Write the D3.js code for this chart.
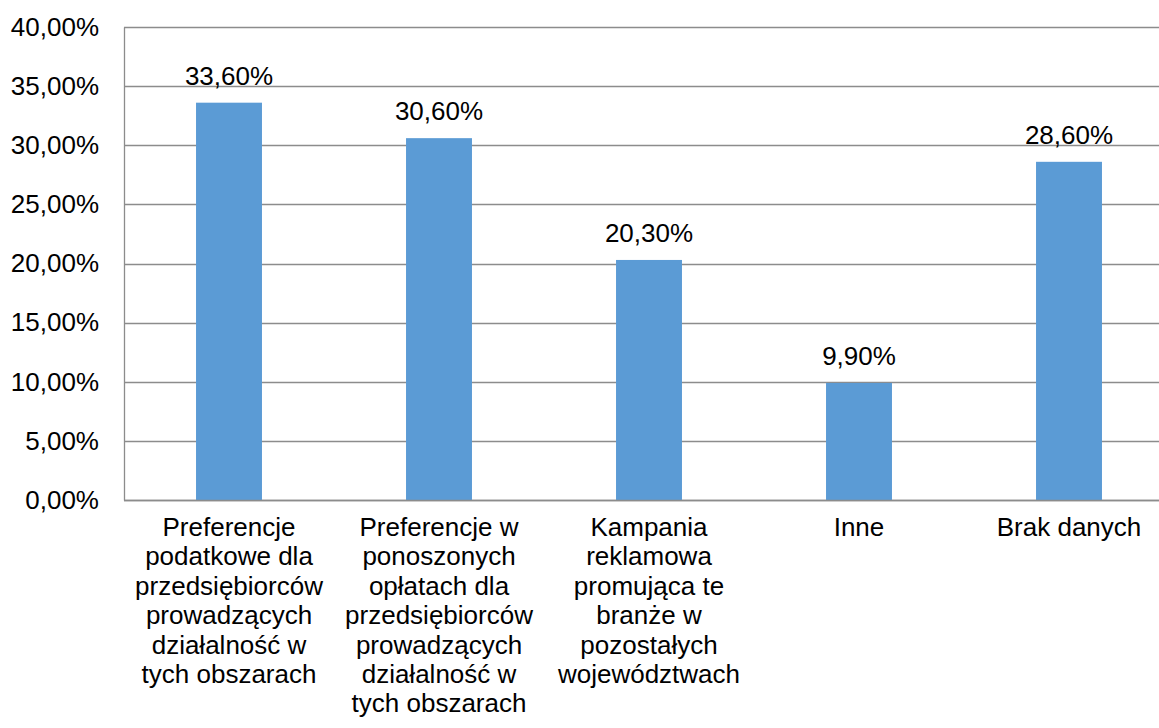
<!DOCTYPE html>
<html lang="pl">
  <head>
    <meta charset="utf-8">
    <title>Wykres</title>
    <style>
    body { margin: 0; background: #fff; }
    text { font-family: "Liberation Sans", Arial, sans-serif; fill: #000; }
    </style>
    <script src="https://cdn.jsdelivr.net/npm/d3@7"></script>
  </head>
  <body>
    <script>

      // dane
      var categories = ["Preferencje podatkowe", "Preferencje w opłatach", "Kampania reklamowa", "Inne", "Brak danych"];
      var values = [33.6, 30.6, 20.3, 9.9, 28.6];
      var categoryLines = [
        ["Preferencje", "podatkowe dla", "przedsiębiorców", "prowadzących", "działalność w", "tych obszarach"],
        ["Preferencje w", "ponoszonych", "opłatach dla", "przedsiębiorców", "prowadzących", "działalność w", "tych obszarach"],
        ["Kampania", "reklamowa", "promująca te", "branże w", "pozostałych", "województwach"],
        ["Inne"],
        ["Brak danych"]
      ];
      var yTicks = [0, 5, 10, 15, 20, 25, 30, 35, 40];

      var width = 1159, height = 728;
      var plot = { left: 124, right: 1174, top: 27, bottom: 500 };

      var svg = d3.select("body").append("svg")
          .attr("width", width)
          .attr("height", height);

      var fmt = function(v) { return v.toFixed(2).replace(".", ",") + "%"; };

      var x = d3.scaleBand()
          .domain(categories)
          .range([plot.left, plot.right])
          .paddingInner(0.686)
          .paddingOuter(0.343);

      var y = d3.scaleLinear()
          .domain([0, 40])
          .range([plot.bottom, plot.top]);

      // linie siatki
      svg.append("g")
        .selectAll("line")
        .data(yTicks)
        .enter().append("line")
          .attr("x1", plot.left)
          .attr("x2", plot.right)
          .attr("y1", d => Math.round(y(d)) + 0.5)
          .attr("y2", d => Math.round(y(d)) + 0.5)
          .attr("stroke", "#8c8c8c")
          .attr("stroke-width", 1.3);

      // os Y
      var yAxis = svg.append("g")
          .attr("transform", "translate(" + plot.left + ",0)")
          .call(d3.axisLeft(y).tickValues(yTicks).tickSize(0).tickPadding(25).tickFormat(fmt));
      yAxis.select(".domain").attr("stroke", "#8c8c8c").attr("stroke-width", 1.3);
      yAxis.selectAll("text")
          .style("font-size", "26px")
          .attr("font-family", null);

      // slupki
      svg.append("g")
        .selectAll("rect")
        .data(values)
        .enter().append("rect")
          .attr("x", (d, i) => x(categories[i]))
          .attr("y", d => y(d))
          .attr("width", x.bandwidth())
          .attr("height", d => y(0) - y(d))
          .attr("fill", "#5b9bd5");

      // etykiety danych
      svg.append("g")
        .selectAll("text")
        .data(values)
        .enter().append("text")
          .attr("x", (d, i) => x(categories[i]) + x.bandwidth() / 2)
          .attr("y", d => y(d) - 18)
          .attr("text-anchor", "middle")
          .style("font-size", "26px")
          .text(d => fmt(d));

      // os X
      svg.append("line")
          .attr("x1", plot.left)
          .attr("x2", plot.right)
          .attr("y1", plot.bottom + 0.5)
          .attr("y2", plot.bottom + 0.5)
          .attr("stroke", "#8c8c8c")
          .attr("stroke-width", 1.3);

      var catLabels = svg.append("g")
        .selectAll("text")
        .data(categories)
        .enter().append("text")
          .attr("x", d => x(d) + x.bandwidth() / 2)
          .attr("y", 536)
          .attr("text-anchor", "middle")
          .style("font-size", "26px");

      catLabels.selectAll("tspan")
        .data((d, i) => categoryLines[i])
        .enter().append("tspan")
          .attr("x", function() { return this.parentNode.getAttribute("x"); })
          .attr("dy", (d, i) => i === 0 ? 0 : 29.4)
          .text(d => d);

    </script>
  </body>
</html>
